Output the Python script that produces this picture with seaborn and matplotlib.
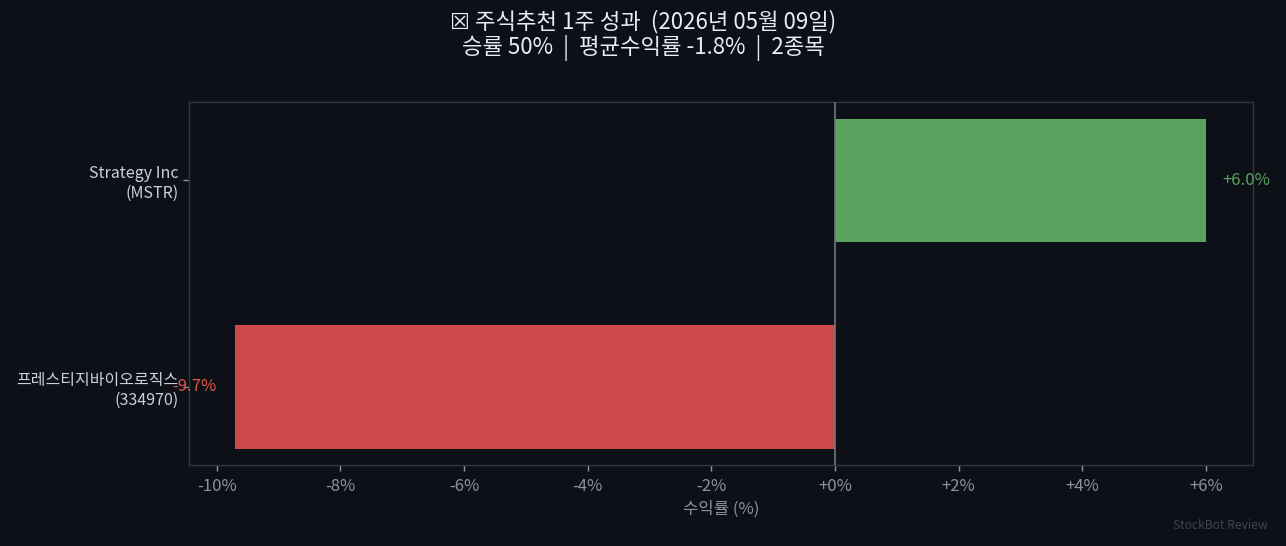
import pandas as pd
import matplotlib
matplotlib.use("Agg")
import matplotlib.pyplot as plt
import seaborn as sns

# 데이터
종목 = ['Strategy Inc\n(MSTR)', '프레스티지바이오로직스\n(334970)']
수익률 = [6.0, -9.7]
x_ticks = [-10, -8, -6, -4, -2, 0, 2, 4, 6]
x_tick_labels = ['-10%', '-8%', '-6%', '-4%', '-2%', '+0%', '+2%', '+4%', '+6%']
title = '☒ 주식추천 1주 성과  (2026년 05월 09일)\n승률 50%  |  평균수익률 -1.8%  |  2종목'

bg = '#0d1117'
green = '#59a35e'
red = '#cc4a4a'

sns.set_theme(style='dark')
plt.rcParams['font.family'] = ['Noto Sans CJK KR', 'DejaVu Sans']
plt.rcParams['axes.unicode_minus'] = False

df = pd.DataFrame({'종목': 종목, '수익률': 수익률})
colores = [green if v >= 0 else red for v in 수익률]

fig, ax = plt.subplots(figsize=(12.86, 5.46), dpi=100)
fig.patch.set_facecolor(bg)
ax.set_facecolor(bg)

sns.barplot(data=df, x='수익률', y='종목', hue='종목', palette=colores,
            orient='h', width=0.6, legend=False, saturation=1,
            edgecolor='none', linewidth=0, ax=ax)

ax.axvline(0, color='#6e7681', lw=1.2, zorder=3)

for i, v in enumerate(수익률):
    if v >= 0:
        ax.text(v + 0.27, i, f'+{v:.1f}%', color=green, va='center', ha='left', fontsize=12)
    else:
        ax.text(v - 0.3, i, f'{v:.1f}%', color='#e5534b', va='center', ha='right', fontsize=12)

ax.set_xlim(-10.45, 6.76)
ax.set_ylim(1.38, -0.38)
ax.set_xticks(x_ticks)
ax.set_xticklabels(x_tick_labels)
ax.set_xlabel('수익률 (%)', color='#8b949e', fontsize=12, labelpad=4)
ax.set_ylabel('')

ax.tick_params(axis='x', colors='#8b949e', labelsize=12, length=4, width=1, bottom=True, pad=5)
ax.tick_params(axis='y', colors='#8b949e', labelcolor='#c9d1d9', labelsize=11.5, length=4, width=1, left=True)
for s in ax.spines.values():
    s.set_visible(True)
    s.set_color('#30363d')
    s.set_linewidth(1)
ax.grid(False)

fig.suptitle(title, color='#e6edf3', fontsize=16, y=0.982, linespacing=1.1)
fig.text(0.986, 0.025, 'StockBot Review', color='#3d444d', fontsize=8.7, ha='right', va='bottom')

plt.subplots_adjust(left=0.147, right=0.9743, top=0.813, bottom=0.148)
plt.savefig('out.png', dpi=100, facecolor=bg)
